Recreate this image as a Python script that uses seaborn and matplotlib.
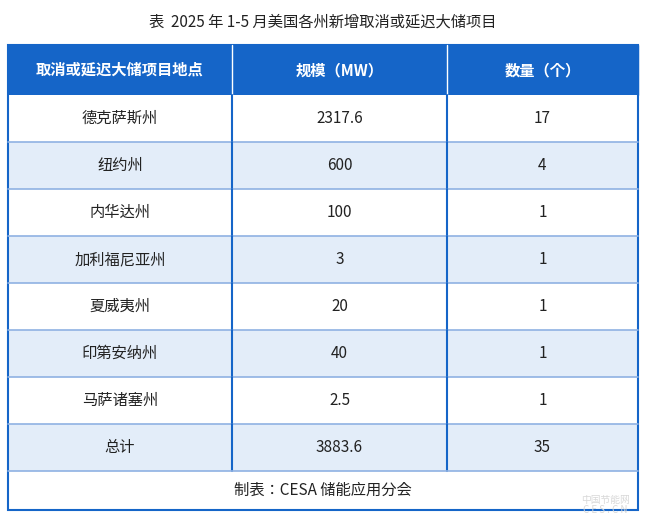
import matplotlib
matplotlib.use("Agg")
import matplotlib.pyplot as plt
from matplotlib.patches import Rectangle
import seaborn as sns

sns.set_theme(style="white")
plt.rcParams["font.family"] = ["Noto Sans CJK SC", "Noto Sans CJK JP",
                               "Noto Sans CJK TC", "DejaVu Sans"]

title = "表  2025 年 1-5 月美国各州新增取消或延迟大储项目"
headers = ["取消或延迟大储项目地点", "规模（MW）", "数量（个）"]
states = ["德克萨斯州", "纽约州", "内华达州", "加利福尼亚州", "夏威夷州",
          "印第安纳州", "马萨诸塞州", "总计"]
capacity = ["2317.6", "600", "100", "3", "20", "40", "2.5", "3883.6"]
counts = ["17", "4", "1", "1", "1", "1", "1", "35"]
footer = "制表：CESA 储能应用分会"

BLUE = "#1565c8"
LIGHT = "#e3edf9"
LINE = "#8fb2e3"

fig = plt.figure(figsize=(6.65, 5.27), dpi=100)
ax = fig.add_axes([0, 0, 1, 1])
ax.set_xlim(0, 665)
ax.set_ylim(527, 0)
ax.axis("off")

col_x = [8, 232, 447, 638]
top, head_h, row_h = 45, 50, 47

ax.text(323, 22, title, ha="center", va="center", fontsize=11, color="#222222")

# header
ax.add_patch(Rectangle((col_x[0], top), col_x[-1] - col_x[0], head_h, color=BLUE))
for j, h in enumerate(headers):
    ax.text((col_x[j] + col_x[j + 1]) / 2, top + head_h / 2, h, ha="center",
            va="center", color="white", fontsize=11, fontweight="bold")
for x in col_x[1:-1]:
    ax.plot([x, x], [top, top + head_h], color="white", lw=1)

# body rows
y = top + head_h
for i, row in enumerate(zip(states, capacity, counts)):
    fc = LIGHT if i % 2 == 1 else "white"
    ax.add_patch(Rectangle((col_x[0], y), col_x[-1] - col_x[0], row_h,
                           facecolor=fc, edgecolor="none"))
    for j, v in enumerate(row):
        ax.text((col_x[j] + col_x[j + 1]) / 2, y + row_h / 2, v, ha="center",
                va="center", color="#222222", fontsize=11)
    for x in col_x[1:-1]:
        ax.plot([x, x], [y, y + row_h], color=BLUE, lw=1.5)
    ax.plot([col_x[0], col_x[-1]], [y + row_h, y + row_h], color=LINE, lw=1.2)
    y += row_h

# footer
bottom = 510
ax.text((col_x[0] + col_x[-1]) / 2, (y + bottom) / 2, footer, ha="center",
        va="center", color="#222222", fontsize=11)
ax.add_patch(Rectangle((col_x[0], top), col_x[-1] - col_x[0], bottom - top,
                       fill=False, edgecolor=BLUE, lw=1.5))
ax.text(605, 505, "中国节能网\nC E S . C N", ha="center", va="center",
        fontsize=7, color="#d8d8d8", linespacing=1.0)

fig.savefig("out.png", dpi=100)
